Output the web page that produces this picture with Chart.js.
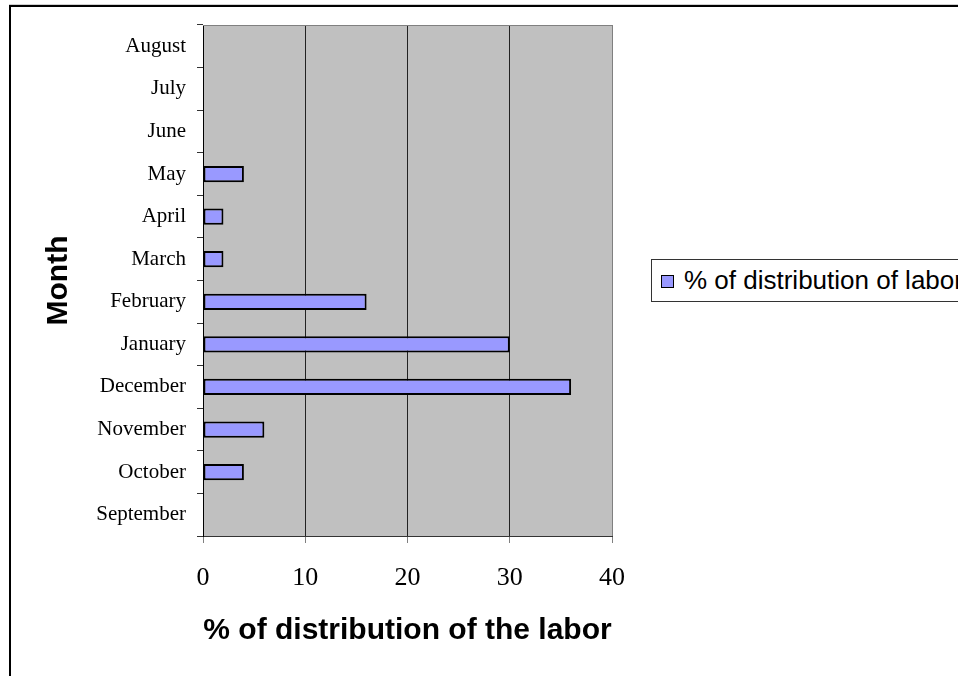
<!DOCTYPE html>
<html>
<head>
<meta charset="utf-8">
<script src="https://cdn.jsdelivr.net/npm/chart.js@4/dist/chart.umd.min.js"></script>
<style>
    html, body { margin: 0; padding: 0; background: #fff; overflow: hidden; }
    #wrap { position: relative; width: 958px; height: 676px; overflow: hidden; }
    #chart { position: absolute; left: 0; top: 0; }
    #frame {
        position: absolute; left: 9px; top: 5px; width: 1000px; height: 700px;
        border-top: 2px solid #000; border-left: 2px solid #000;
        box-shadow: 0 -1px 0 #d0d0d0;
        pointer-events: none;
    }
    #legend {
        position: absolute; left: 651px; top: 259px; width: 340px; height: 41px;
        border: 1px solid #333; background: #fff;
        font-family: Arial, "Liberation Sans", sans-serif; font-size: 26px; color: #000;
        display: flex; align-items: center; white-space: nowrap;
    }
    #legend .swatch {
        display: inline-block; width: 11px; height: 11px; margin: 2px 10px 0 9px;
        border: 1px solid #000;
    }
</style>
</head>
<body>
<div id="wrap">
    <canvas id="chart" width="958" height="676"></canvas>
    <div id="frame"></div>
    <div id="legend"></div>
</div>
<script>
const months = ['September', 'October', 'November', 'December', 'January', 'February',
                'March', 'April', 'May', 'June', 'July', 'August'];
const laborShare = [0, 4, 6, 36, 30, 16, 2, 2, 4, 0, 0, 0];
const xTicks = [0, 10, 20, 30, 40];

const seriesLabel = '% of distribution of labor';
const xTitle = '% of distribution of the labor';
const yTitle = 'Month';

const COLORS = {
    BAR: '#9999FF',
    PLOT: '#C0C0C0',
    FRAME: '#808080',
    BLACK: '#000000'
};

// gray plot area with a thin gray frame on top/right, like the old office charts
const plotBackground = {
    id: 'plotBackground',
    beforeDraw(chart) {
        const { ctx, chartArea: a } = chart;
        ctx.save();
        ctx.fillStyle = COLORS.PLOT;
        ctx.fillRect(a.left, a.top, a.right - a.left, a.bottom - a.top);
        ctx.restore();
    },
    beforeDatasetsDraw(chart) {
        const { ctx, chartArea: a } = chart;
        ctx.save();
        ctx.strokeStyle = COLORS.FRAME;
        ctx.lineWidth = 1;
        ctx.beginPath();
        ctx.moveTo(a.left, Math.round(a.top) + 0.5);
        ctx.lineTo(Math.round(a.right) + 0.5, Math.round(a.top) + 0.5);
        ctx.lineTo(Math.round(a.right) + 0.5, a.bottom);
        ctx.stroke();
        ctx.restore();
    }
};

const getBarChartConfig = () => {
    return {
        type: 'bar',
        data: {
            labels: months,
            datasets: [{
                label: seriesLabel,
                data: laborShare,
                backgroundColor: COLORS.BAR,
                borderColor: COLORS.BLACK,
                borderWidth: 2,
                borderSkipped: false,
                barPercentage: 0.38,
                categoryPercentage: 1
            }]
        },
        options: {
            indexAxis: 'y',
            responsive: false,
            animation: false,
            layout: {
                padding: { left: 0, top: 25, right: 346, bottom: 0 }
            },
            plugins: {
                legend: { display: false },
                tooltip: { enabled: false }
            },
            scales: {
                x: {
                    min: xTicks[0],
                    max: xTicks[xTicks.length - 1],
                    ticks: {
                        stepSize: xTicks[1] - xTicks[0],
                        color: COLORS.BLACK,
                        padding: 20,
                        font: { family: '"Liberation Serif", "Times New Roman", serif', size: 26 }
                    },
                    grid: {
                        color: (c) => c.tick && c.tick.value === xTicks[xTicks.length - 1] ? COLORS.FRAME : '#222',
                        tickColor: COLORS.FRAME,
                        tickLength: 7,
                        lineWidth: 1
                    },
                    border: { color: '#333', width: 1 },
                    title: {
                        display: true,
                        text: xTitle,
                        color: COLORS.BLACK,
                        padding: { top: 0, bottom: 27 },
                        font: { family: 'Arial, "Liberation Sans", sans-serif', size: 30, weight: 'bold' }
                    },
                    afterFit: (scale) => { scale.height = 140; }
                },
                y: {
                    reverse: true,
                    ticks: {
                        color: COLORS.BLACK,
                        padding: 11,
                        font: { family: '"Liberation Serif", "Times New Roman", serif', size: 21 }
                    },
                    grid: {
                        drawOnChartArea: false,
                        tickColor: '#333',
                        tickLength: 6
                    },
                    border: { color: COLORS.BLACK, width: 1 },
                    title: {
                        display: true,
                        text: yTitle,
                        color: COLORS.BLACK,
                        padding: { top: 41, bottom: 0 },
                        font: { family: 'Arial, "Liberation Sans", sans-serif', size: 30, weight: 'bold' }
                    },
                    afterFit: (scale) => { scale.width = 203; }
                }
            }
        },
        plugins: [plotBackground]
    };
};

const chart = new Chart(document.getElementById('chart'), getBarChartConfig());

// legend box built from the dataset itself
const legendEl = document.getElementById('legend');
chart.data.datasets.forEach((ds) => {
    const sw = document.createElement('span');
    sw.className = 'swatch';
    sw.style.background = ds.backgroundColor;
    const txt = document.createElement('span');
    txt.textContent = ds.label;
    legendEl.appendChild(sw);
    legendEl.appendChild(txt);
});
</script>
</body>
</html>
